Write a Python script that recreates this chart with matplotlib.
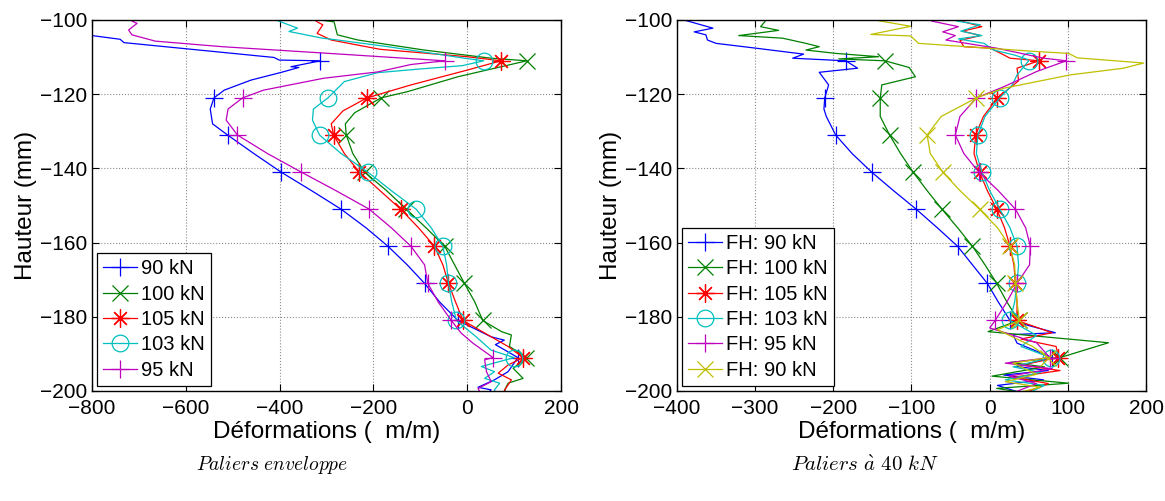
import matplotlib
matplotlib.use('Agg')
import matplotlib.pyplot as plt
from matplotlib.lines import Line2D

plt.rcParams['font.family'] = ['Liberation Sans', 'DejaVu Sans']
plt.rcParams['mathtext.fontset'] = 'cm'

# depths (mm) where the markers sit
levels = [-111, -121, -131, -141, -151, -161, -171, -181, -191]

# ---- Paliers enveloppe ----
env90_x = [-880, -830, -800, -740, -732, -412, -401, -313, -376, -359, -396, -461, -518, -540, -548, -543,
           -511, -455, -397, -332, -269, -216, -169, -128, -91, -59, -20, 51, 79, 60, 108, 87, 58, 23, 51, 40]
env90_y = [-100.5, -103.6, -104.2, -105.2, -106.1, -110.1, -110.8, -111, -112.6, -112.8, -114.1, -116.2, -118.9,
           -121, -124, -128, -131, -136, -141, -146, -151, -156, -161, -166, -171, -176, -181, -185.4, -186.3,
           -187.5, -191, -194.8, -197, -199, -199.7, -201]

env100_x = [-330, -314, -284, -277, -233, -92, 51, 127, -20, -127, -184, -240, -260, -258, -244, -219, -172,
            -130, -88, -48, -27, -6, 16, 33, 73, 94, 90, 126, 98, 119, 87, 80, 85]
env100_y = [-99, -100, -100.5, -104, -105.4, -108.1, -110.3, -111, -115.3, -119.3, -121, -125, -128, -131, -136,
            -141, -146, -151, -156, -161, -166, -171, -176, -181, -184, -184.9, -188, -191, -193.9, -196.6,
            -197.9, -199.7, -201]

env105_x = [-330, -320, -308, -320, -290, -186, 0, 72, 0, -120, -214, -265, -290, -285, -262, -230, -186, -142,
            -104, -70, -52, -40, -25, -9, 51, 87, 119, 87, 66, 94, 80, 75]
env105_y = [-99.5, -100.5, -101.3, -103.6, -105.4, -107.9, -109.9, -111, -113.5, -117.5, -121, -124.5, -128, -131,
            -136, -141, -146, -151, -156, -161, -166, -171, -176, -181, -185.4, -188, -191, -193, -195.2, -197,
            -199.7, -201]

env103_x = [-420, -408, -362, -380, -309, -276, -169, -6, 35, -10, -100, -191, -262, -297, -328, -330, -315, -269,
            -212, -162, -109, -77, -52, -44, -40, -33, -23, 19, 51, 100, 30, 58, 37, 69, 58, 60]
env103_y = [-99.5, -100, -102.2, -103.1, -104.9, -105.4, -107.2, -110.3, -111, -112.3, -113.2, -114.2, -116.6,
            -121, -124, -127, -131, -136, -141, -146, -151, -156, -161, -166, -171, -176, -181, -185.4, -189,
            -191, -193.4, -194.8, -196.6, -197.9, -199.7, -201]

env95_x = [-700, -715, -704, -722, -715, -665, -522, -295, -48, -120, -191, -306, -434, -479, -510, -514, -490,
           -426, -354, -280, -209, -162, -120, -91, -84, -62, -34, -13, 12, 55, 37, 41, 51, 23, 30]
env95_y = [-99, -100.3, -100.9, -102.7, -104, -105.7, -107.2, -109, -111, -112, -114, -115.7, -118.9, -121, -124,
           -127, -131, -136, -141, -146, -151, -156, -161, -166, -171, -176, -181, -184.4, -187.1, -191, -191.6,
           -194.8, -197.5, -199.3, -201]

# ---- Paliers a 40 kN ----
p90_x = [-400, -386, -354, -378, -363, -361, -350, -299, -238, -252, -184, -169, -218, -206, -211, -212, -209,
         -197, -176, -151, -123, -94, -67, -41, -22, -3, 11, 26, 84, 30, 35, 80, 35, 75, 18, 69, 10, 40]
p90_y = [-99.5, -100.3, -102.2, -103.2, -104, -105.4, -106.3, -107.6, -109.2, -110.3, -111, -113, -114.1, -117.5,
         -121, -124, -126, -131, -136, -141, -146, -151, -156, -161, -166, -171, -176, -181, -184.3, -184.8,
         -187.1, -191, -193.4, -194.5, -195.7, -197, -198.5, -200.5]

p100_x = [-290, -287, -293, -270, -321, -265, -235, -218, -235, -197, -142, -193, -134, -103, -95, -138, -140,
          -140, -128, -114, -98, -80, -61, -41, -22, -6, 9, 22, 37, -2, 152, 90, 26, 70, 3, 101, 9, 60]
p100_y = [-99, -100.3, -101.8, -102.8, -104.2, -104.9, -106.3, -107.2, -108.1, -109, -109.9, -110.5, -111, -112.8,
          -115.3, -117.5, -121, -126, -131, -136, -141, -146, -151, -156, -161, -166, -171, -176, -181, -184,
          -187, -191, -192.3, -193.5, -196, -197.9, -199.3, -201]

p105_x = [-40, -33, -10, -35, -12, -38, -33, 1, 18, 26, 63, 35, 37, 10, -8, -18, -20, -13, -3, 9, 19, 26, 31, 33,
          35, 35, 80, 40, 85, 88, 40, 90, 30, 75, 45]
p105_y = [-99.5, -100.5, -101.8, -103, -104.2, -105.5, -107.2, -107.6, -109.4, -110.3, -111, -113, -116.4, -121,
          -126, -131, -136, -141, -146, -151, -156, -161, -166, -171, -176, -181, -184.3, -186, -188, -191, -193,
          -194.5, -196.3, -198, -200.5]

p103_x = [-45, -42, -12, -37, -10, -40, -7, 5, 31, 48, 50, 35, 29, 13, -6, -15, -17, -10, 0, 13, 26, 35, 37, 35,
          32, 26, 60, 40, 78, 30, 65, 20, 70, 50]
p103_y = [-99.5, -100.3, -101.3, -103, -104.2, -105.1, -106.3, -108.1, -109.4, -110.6, -111, -114.8, -117.5, -121,
          -126, -131, -136, -141, -146, -151, -156, -161, -166, -171, -176, -181, -185, -188, -191, -193.5, -195,
          -197, -198.5, -200.5]

p95_x = [-80, -74, -40, -60, -44, -56, 9, 69, 98, 60, 18, -17, -38, -44, -33, -14, 11, 33, 46, 52, 51, 35, 22, 7,
         0, 60, 77, 20, 80, 25, 60, 30]
p95_y = [-99.5, -100.3, -101.8, -103.2, -104.2, -105.4, -107.6, -110.3, -111, -113.9, -118, -121, -126, -131,
         -136, -141, -146, -151, -156, -161, -166, -171, -176, -181, -183, -187, -191, -192.5, -194, -196, -198,
         -200.5]

p90b_x = [-150, -142, -101, -152, -101, -91, 60, 101, 112, 197, 171, 103, 18, -17, -62, -80, -76, -60, -38, -13,
          10, 26, 32, 33, 35, 38, 10, 55, 75, 30, 60, 20, 65, 35]
p90b_y = [-99.5, -100.2, -101.7, -103.9, -104.3, -106.3, -108.5, -109, -110.2, -111.6, -113, -114.8, -118.4, -121,
          -126, -131, -136, -141, -146, -151, -156, -161, -166, -171, -176, -181, -183.5, -188, -191, -192.5,
          -195.5, -197.5, -199, -200.5]

env_labels = ['90 kN', '100 kN', '105 kN', '103 kN', '95 kN']
p40_labels = ['FH: 90 kN', 'FH: 100 kN', 'FH: 105 kN', 'FH: 103 kN', 'FH: 95 kN', 'FH: 90 kN']

colors = ['#0000ff', '#008000', '#ff0000', '#00bfbf', '#bf00bf', '#bfbf00']
markers = ['+', 'x', (8, 2, 0), 'o', '+', 'x']
msizes = [13, 11, 13, 12, 13, 11]


def draw_series(ax, xs, ys, color, marker, ms):
    ax.plot(xs, ys, color=color, lw=0.9)
    mx = [x for x, y in zip(xs, ys) if y in levels]
    my = [y for y in ys if y in levels]
    ax.plot(mx, my, ls='none', marker=marker, ms=ms, mew=0.9, mec=color, mfc='none')
    return Line2D([], [], color=color, lw=0.9, marker=marker, ms=ms, mew=0.9, mec=color, mfc='none')


def style_axes(ax, xlim, xticks):
    ax.set_xlim(xlim)
    ax.set_ylim(-200, -100)
    ax.set_xticks(xticks)
    ax.set_yticks(range(-200, -99, 20))
    ax.grid(True, ls=':', color='0.55', lw=0.8)
    ax.tick_params(direction='in', top=True, right=True, length=5, labelsize=15, width=0.8)
    ax.tick_params(axis='x', pad=6)
    ax.set_xlabel('Déformations (  m/m)', fontsize=17.5, labelpad=2)
    ax.set_ylabel('Hauteur (mm)', fontsize=17.5, labelpad=2)
    for s in ax.spines.values():
        s.set_linewidth(1.0)


fig = plt.figure(figsize=(11.65, 5.01), dpi=100)
ax1 = fig.add_axes([0.079, 0.2196, 0.4026, 0.7405])
ax2 = fig.add_axes([0.5811, 0.2196, 0.4026, 0.7405])

env_data = [(env90_x, env90_y), (env100_x, env100_y), (env105_x, env105_y),
            (env103_x, env103_y), (env95_x, env95_y)]
p40_data = [(p90_x, p90_y), (p100_x, p100_y), (p105_x, p105_y),
            (p103_x, p103_y), (p95_x, p95_y), (p90b_x, p90b_y)]

h1 = [draw_series(ax1, d[0], d[1], colors[i], markers[i], msizes[i]) for i, d in enumerate(env_data)]
h2 = [draw_series(ax2, d[0], d[1], colors[i], markers[i], msizes[i]) for i, d in enumerate(p40_data)]

style_axes(ax1, (-800, 200), range(-800, 201, 200))
style_axes(ax2, (-400, 200), range(-400, 201, 100))

for ax, h, labs in [(ax1, h1, env_labels), (ax2, h2, p40_labels)]:
    leg = ax.legend(h, labs, loc='lower left', fontsize=14.5, handlelength=1.7, handletextpad=0.2,
                    labelspacing=0.32, borderaxespad=0.25, borderpad=0.3, fancybox=False,
                    framealpha=1, edgecolor='black')
    leg.get_frame().set_linewidth(0.9)

fig.text(0.2335, 0.072, r'$\mathit{Paliers\ enveloppe}$', ha='center', va='center', fontsize=14)
fig.text(0.7425, 0.072, r'$\mathit{Paliers\ \grave{a}\ 40\ kN}$', ha='center', va='center', fontsize=15)

fig.savefig('out.png', dpi=100)
